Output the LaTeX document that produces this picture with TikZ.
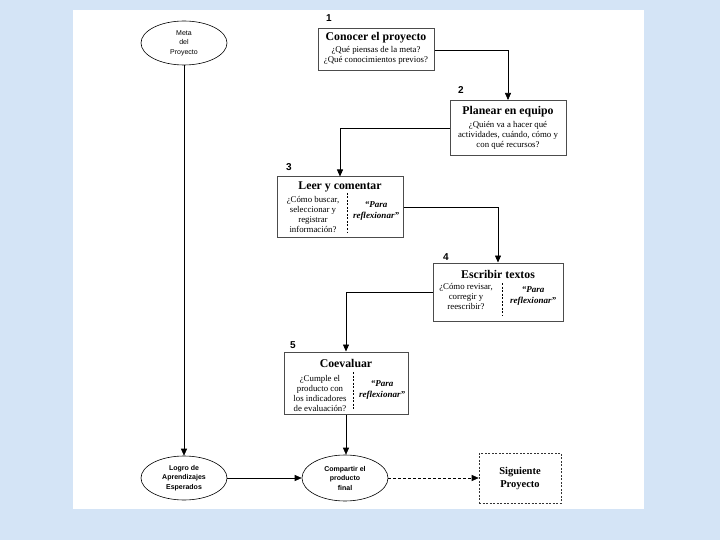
\documentclass[tikz,border=0pt]{standalone}
\usepackage{fontspec}
\setmainfont{Liberation Serif}
\setsansfont{Liberation Sans}
\usetikzlibrary{arrows.meta,shapes.geometric}
\definecolor{bgblue}{RGB}{212,228,246}
\begin{document}
\begin{tikzpicture}[x=1pt,y=-1pt,
  stepbox/.style={draw=black!70, line width=1pt, fill=white, rectangle, inner sep=0pt},
  oval/.style={draw=black, line width=0.6pt, ellipse, inner sep=0pt, minimum width=86pt, minimum height=44pt},
  ovtext/.style={font=\sffamily\fontsize{7}{9.5}\selectfont, align=center, inner sep=0pt},
  ovbold/.style={font=\sffamily\bfseries\fontsize{7}{9.5}\selectfont, align=center, inner sep=0pt},
  conn/.style={draw=black, line width=0.6pt, -{Triangle[length=7pt,width=6pt]}},
  ttl/.style={font=\bfseries\fontsize{11.8}{13}\selectfont, inner sep=0pt},
  sm/.style={font=\fontsize{8.8}{10}\selectfont, align=center, inner sep=0pt},
  refl/.style={font=\bfseries\itshape\fontsize{9}{11}\selectfont, align=center, inner sep=0pt},
  num/.style={font=\sffamily\bfseries\fontsize{10}{10}\selectfont, inner sep=0pt},
  divline/.style={draw=black, line width=0.6pt, dash pattern=on 2pt off 1.5pt}
]
% background
\fill[bgblue] (0,0) rectangle (720,540);
\fill[white] (73,10) rectangle (644,509);
\useasboundingbox (0,0) rectangle (720,540);

% ellipses
\node[oval] (meta) at (184,43) {};
\node[ovtext] (metat) at (184,43) {Meta\\del\\Proyecto};
\node[oval] (logro) at (184,478) {};
\node[ovbold] (logrot) at (184,478) {Logro de\\Aprendizajes\\Esperados};
\node[oval, minimum height=46pt] (comp) at (345,478) {};
\node[ovbold] (compt) at (345,478) {Compartir el\\producto\\final};

% box 1
\node[stepbox, minimum width=116pt, minimum height=42pt] (b1) at (376,50) {};
\node[num] (n1) at (329,18) {1};
\node[ttl] (b1t) at (376,38) {Conocer el proyecto};
\node[sm] (b1a) at (376,55) {¿Qué piensas de la meta?\\¿Qué conocimientos previos?};

% box 2
\node[stepbox, minimum width=116pt, minimum height=55pt] (b2) at (508,128) {};
\node[num] (n2) at (461,90) {2};
\node[ttl] (b2t) at (508,112) {Planear en equipo};
\node[sm] (b2a) at (508,135) {¿Quién va a hacer qué\\actividades, cuándo, cómo y\\con qué recursos?};

% box 3
\node[stepbox, minimum width=126pt, minimum height=60pt] (b3) at (340,207) {};
\node[num] (n3) at (289,167) {3};
\node[ttl] (b3t) at (340,187) {Leer y comentar};
\node[sm] (b3a) at (313,215) {¿Cómo buscar,\\seleccionar y\\registrar\\información?};
\draw[divline] (347,193) -- (347,232);
\node[refl] (b3r) at (376,211) {“Para\\reflexionar”};

% box 4
\node[stepbox, minimum width=130pt, minimum height=58pt] (b4) at (498,292) {};
\node[num] (n4) at (446,257) {4};
\node[ttl] (b4t) at (498,274) {Escribir textos};
\node[sm] (b4a) at (466,297) {¿Cómo revisar,\\corregir y\\reescribir?};
\draw[divline] (502,283) -- (502,316);
\node[refl] (b4r) at (533,296) {“Para\\reflexionar”};

% box 5
\node[stepbox, minimum width=124pt, minimum height=62pt] (b5) at (346,383) {};
\node[num] (n5) at (293,345) {5};
\node[ttl] (b5t) at (346,363) {Coevaluar};
\node[sm] (b5a) at (320,394) {¿Cumple el\\producto con\\los indicadores\\de evaluación?};
\draw[divline] (353,372) -- (353,410);
\node[refl] (b5r) at (382,390) {“Para\\reflexionar”};

% siguiente
\node[draw=black!80, line width=0.6pt, dash pattern=on 2pt off 1.5pt, minimum width=82pt, minimum height=50pt, inner sep=0pt] (sig) at (520,478) {};
\node[font=\bfseries\fontsize{10.5}{13}\selectfont, align=center, inner sep=0pt] (sigt) at (520,478) {Siguiente\\Proyecto};

% connectors
\draw[conn] (b1.east) -| (b2.north);
\draw[conn] (b2.west) -| (b3.north);
\draw[conn] (b3.east) -| (b4.north);
\draw[conn] (b4.west) -| (b5.north);
\draw[conn] (b5.south) -- (b5.south |- comp.north);
\draw[conn] (meta.south) -- (logro.north);
\draw[conn] (logro.east) -- (comp.west);
\draw[conn, dash pattern=on 3pt off 2pt] (comp.east) -- (sig.west);
\end{tikzpicture}
\end{document}
